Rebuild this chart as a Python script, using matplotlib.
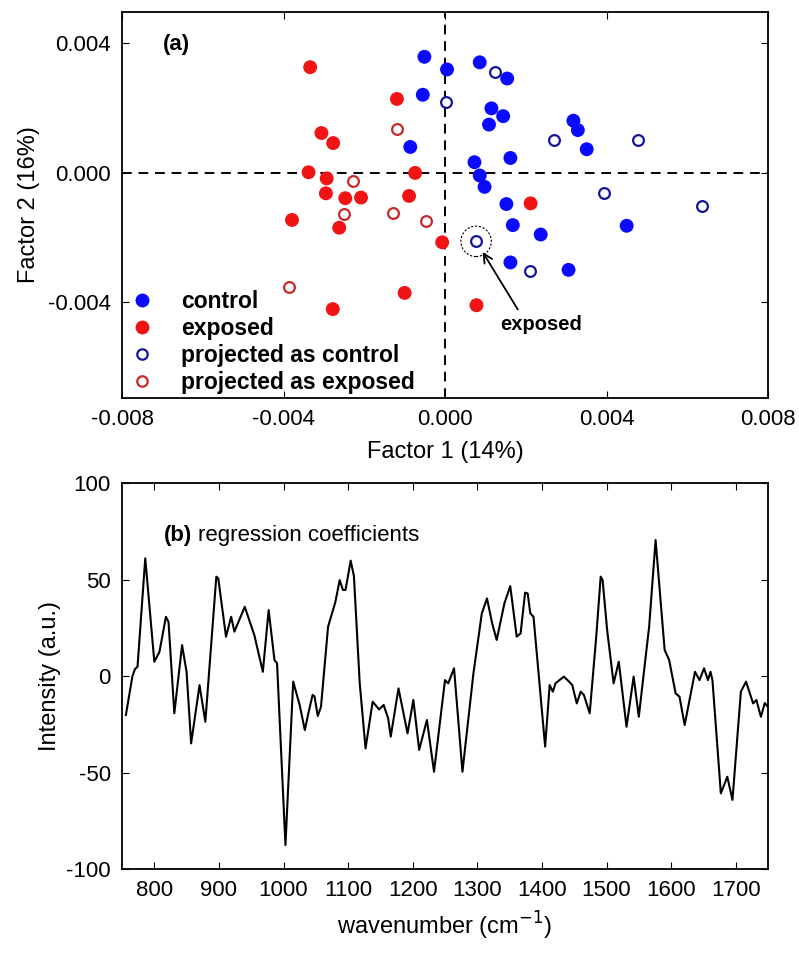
import matplotlib
matplotlib.use('Agg')
import matplotlib.pyplot as plt
from matplotlib.lines import Line2D
import numpy as np

plt.rcParams.update({'font.family': ['Liberation Sans', 'DejaVu Sans'], 'font.size': 16,
                     'axes.unicode_minus': False,
                     'xtick.direction': 'in', 'ytick.direction': 'in',
                     'xtick.top': True, 'ytick.right': True,
                     'xtick.major.size': 5, 'ytick.major.size': 5,
                     'axes.linewidth': 1.3})

BLUE = '#0a0aff'; BLUE_O = '#15159a'; RED = '#f01414'; RED_O = '#c82828'

# (a) factor scores
ctrl_x = [-0.00051, 0.00005, -0.00055, -0.00086, 0.00086, 0.00154, 0.00115, 0.00144, 0.00109, 0.00318, 0.00329,
          0.00351, 0.00162, 0.00073, 0.00086, 0.00098, 0.00152, 0.00168, 0.00237, 0.00450, 0.00162, 0.00306]
ctrl_y = [0.00357, 0.00318, 0.00240, 0.00079, 0.00340, 0.00290, 0.00198, 0.00174, 0.00148, 0.00160, 0.00131,
          0.00072, 0.00045, 0.00032, -0.00009, -0.00044, -0.00097, -0.00162, -0.00191, -0.00164, -0.00277, -0.00300]
expo_x = [-0.00334, -0.00119, -0.00306, -0.00277, -0.00338, -0.00074, -0.00293, -0.00295, -0.00247, -0.00208,
          -0.00089, -0.00379, -0.00262, -0.00007, -0.00100, -0.00278, 0.00212, 0.00078]
expo_y = [0.00325, 0.00227, 0.00122, 0.00091, 0.00001, -0.00001, -0.00018, -0.00064, -0.00079, -0.00077,
          -0.00072, -0.00146, -0.00170, -0.00215, -0.00371, -0.00421, -0.00095, -0.00409]
pctrl_x = [0.00003, 0.00125, 0.00270, 0.00477, 0.00394, 0.00636, 0.00077, 0.00210]
pctrl_y = [0.00217, 0.00309, 0.00102, 0.00102, -0.00064, -0.00103, -0.00212, -0.00303]
pexpo_x = [-0.00120, -0.00228, -0.00249, -0.00129, -0.00048, -0.00387]
pexpo_y = [0.00134, -0.00026, -0.00127, -0.00125, -0.00149, -0.00354]
highlight = 6  # misclassified exposed sample among projected-as-control

# (b) regression coefficients
wn = [756, 766, 770, 774, 786, 800, 808, 818, 822, 831, 843, 850, 857, 870, 879, 896, 899, 911, 919, 924, 940,
      955, 968, 977, 986, 990, 1003, 1015, 1025, 1033, 1038, 1045, 1048, 1053, 1058, 1069, 1080, 1087, 1092, 1096,
      1104, 1109, 1118, 1127, 1138, 1148, 1155, 1162, 1166, 1178, 1192, 1201, 1210, 1222, 1233, 1250, 1255, 1264,
      1277, 1294, 1307, 1315, 1323, 1330, 1342, 1351, 1361, 1367, 1374, 1378, 1382, 1387, 1405, 1412, 1417, 1421,
      1434, 1442, 1447, 1454, 1460, 1465, 1474, 1484, 1491, 1494, 1501, 1511, 1519, 1531, 1542, 1550, 1566, 1576,
      1590, 1597, 1607, 1613, 1621, 1637, 1644, 1651, 1657, 1661, 1664, 1677, 1687, 1695, 1708, 1716, 1727, 1732,
      1739, 1745, 1750]
inten = [-20.2, -0.3, 3.6, 4.8, 61.0, 7.4, 12.6, 30.7, 28.0, -19.3, 16.0, 2.0, -34.9, -4.7, -23.7, 51.5, 50.6,
         20.4, 30.7, 23.0, 35.9, 21.0, 2.2, 34.2, 8.3, 6.6, -87.6, -2.9, -15.0, -28.0, -20.0, -9.8, -10.5, -20.7,
         -16.0, 25.6, 38.0, 49.7, 44.6, 44.6, 59.8, 51.8, -3.8, -37.5, -13.3, -17.3, -15.0, -21.9, -31.4, -6.4,
         -29.7, -12.4, -38.3, -22.8, -49.6, -2.1, -3.8, 4.0, -49.6, 1.4, 32.5, 40.2, 27.3, 18.7, 37.7, 46.6, 20.4,
         22.1, 43.2, 42.8, 32.5, 30.7, -36.6, -4.7, -8.1, -3.8, -0.3, -2.9, -4.7, -14.2, -8.1, -9.8, -19.3, 20.0,
         51.5, 49.7, 23.8, -3.8, 7.4, -26.3, -0.3, -21.1, 25.6, 70.5, 13.5, 8.3, -9.0, -10.7, -25.4, 2.2, -2.1,
         4.0, -2.1, 2.2, -2.1, -60.8, -52.2, -64.2, -8.1, -2.9, -14.2, -12.4, -21.1, -14.0, -16.0]

fig = plt.figure(figsize=(7.99, 9.56), dpi=100)
ax1 = fig.add_axes([0.1527, 0.5837, 0.8085, 0.4037])
ax2 = fig.add_axes([0.1527, 0.0910, 0.8085, 0.4037])

ax1.axvline(0, color='k', ls=(0, (5, 3.5)), lw=1.4, zorder=1)
ax1.axhline(0, color='k', ls=(0, (5, 3.5)), lw=1.4, zorder=1)
ax1.scatter(ctrl_x, ctrl_y, s=100, color=BLUE, edgecolors='none', zorder=3)
ax1.scatter(expo_x, expo_y, s=100, color=RED, edgecolors='none', zorder=3)
ax1.scatter(pctrl_x, pctrl_y, s=60, facecolors='white', edgecolors=BLUE_O, linewidths=1.6, zorder=3)
ax1.scatter(pexpo_x, pexpo_y, s=60, facecolors='white', edgecolors=RED_O, linewidths=1.6, zorder=3)
hx, hy = pctrl_x[highlight], pctrl_y[highlight]
ax1.scatter([hx], [hy], s=480, facecolors='none', edgecolors='k', linewidths=0.8,
            linestyles=(0, (2, 1.5)), zorder=2)
ax1.annotate('', xy=(hx, hy), xytext=(30, -49), textcoords='offset points',
             xycoords='data', arrowprops=dict(arrowstyle='->', color='k', lw=1.3, shrinkA=0, shrinkB=9))
ax1.annotate('exposed', xy=(hx, hy), xytext=(47, -60), textcoords='offset points',
             ha='center', va='center', fontsize=14.5, fontweight='bold')
ax1.text(0.085, 0.915, '(a)', transform=ax1.transAxes, fontsize=16, fontweight='bold', ha='center', va='center')

handles = [Line2D([], [], ls='none', marker='o', ms=10, color=BLUE, mec='none'),
           Line2D([], [], ls='none', marker='o', ms=10, color=RED, mec='none'),
           Line2D([], [], ls='none', marker='o', ms=7.5, mfc='white', mec=BLUE_O, mew=1.6),
           Line2D([], [], ls='none', marker='o', ms=7.5, mfc='white', mec=RED_O, mew=1.6)]
leg = ax1.legend(handles, ['control', 'exposed', 'projected as control', 'projected as exposed'],
                 loc='lower left', bbox_to_anchor=(0.0125, 0.004), frameon=False,
                 handlelength=0.8, handletextpad=1.3,
                 labelspacing=0.17, borderaxespad=0.0, borderpad=0.12,
                 prop={'weight': 'bold', 'size': 16.5})

ax1.set_xlim(-0.008, 0.008)
ax1.set_ylim(-0.00695, 0.00495)
ax1.set_xticks([-0.008, -0.004, 0.0, 0.004, 0.008])
ax1.set_yticks([-0.004, 0.0, 0.004])
ax1.xaxis.set_major_formatter(matplotlib.ticker.FormatStrFormatter('%.3f'))
ax1.yaxis.set_major_formatter(matplotlib.ticker.FormatStrFormatter('%.3f'))
ax1.set_xlabel('Factor 1 (14%)', fontsize=17, labelpad=8)
ax1.set_ylabel('Factor 2 (16%)', fontsize=17, labelpad=6)
ax1.tick_params(labelsize=16, pad=8)

ax2.plot(wn, inten, color='k', lw=1.5)
ax2.set_xlim(750, 1750)
ax2.set_ylim(-100, 100)
ax2.set_xticks(range(800, 1701, 100))
ax2.set_yticks([-100, -50, 0, 50, 100])
ax2.text(0.065, 0.865, '(b)', transform=ax2.transAxes, fontsize=16, fontweight='bold', va='center')
ax2.text(0.118, 0.865, 'regression coefficients', transform=ax2.transAxes, fontsize=16, va='center')
ax2.set_xlabel('wavenumber (cm$^{-1}$)', fontsize=17, labelpad=6)
ax2.set_ylabel('Intensity (a.u.)', fontsize=17, labelpad=4)
ax2.tick_params(labelsize=16, pad=8)

fig.savefig('out.png', dpi=100)
